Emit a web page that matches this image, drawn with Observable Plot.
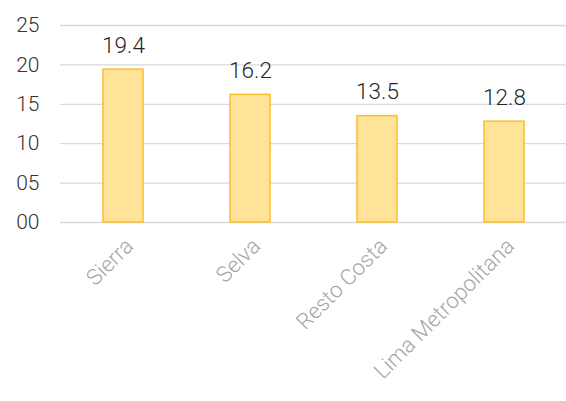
<!DOCTYPE html>
<html>
<head>
<meta charset="utf-8">
<script src="https://cdn.jsdelivr.net/npm/d3@7"></script>
<script src="https://cdn.jsdelivr.net/npm/@observablehq/plot@0.6"></script>
<style>
  html, body { margin: 0; padding: 0; background: #fff; }
  #chart svg { display: block; }
</style>
</head>
<body>
<div id="chart"></div>
<script>
const regions = ["Sierra", "Selva", "Resto Costa", "Lima Metropolitana"];
const values = [19.4, 16.2, 13.5, 12.8];
const yTicks = [0, 5, 10, 15, 20, 25];

const data = regions.map((r, i) => ({region: r, value: values[i]}));
const font = "Roboto, 'Noto Sans', sans-serif";

const chart = Plot.plot({
  width: 566,
  height: 401,
  marginLeft: 60,
  marginRight: -2,
  marginTop: 25,
  marginBottom: 179,
  style: {fontFamily: font, background: "#fff", fontWeight: 300},
  x: {domain: regions, paddingInner: 0.685, paddingOuter: 0.3425, label: null},
  y: {domain: [0, 25], label: null},
  marks: [
    Plot.gridY(yTicks, {stroke: "#d9d9d9", strokeOpacity: 1, strokeWidth: 1.3}),
    Plot.barY(data, {x: "region", y: "value", fill: "#fee398", stroke: "#fbbf2a", strokeWidth: 1.5}),
    Plot.text(data, {x: "region", y: "value", text: d => d.value.toFixed(1), lineAnchor: "bottom", dy: -17, fontSize: 22.5, fontWeight: 300, fill: "#262626"}),
    Plot.axisY(yTicks, {tickSize: 0, tickPadding: 21, fontSize: 21, fontWeight: 300, fill: "#333", tickFormat: d => String(d).padStart(2, "0")}),
    Plot.axisX({tickSize: 0, tickRotate: -45, tickPadding: 12, dx: 6, dy: 8, fontSize: 22, fontWeight: 300, fill: "#a6a6a6"})
  ]
});
document.getElementById("chart").append(chart);
</script>
</body>
</html>
